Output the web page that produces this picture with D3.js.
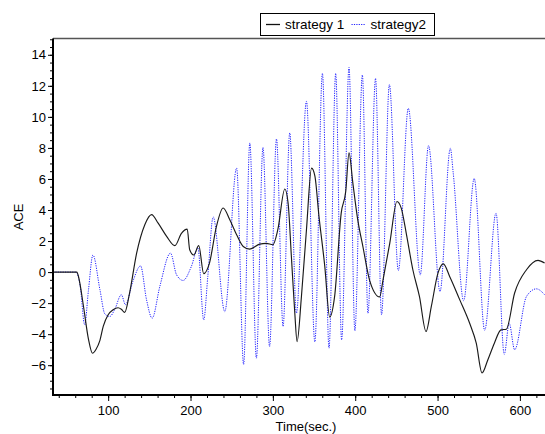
<!DOCTYPE html>
<html>
<head>
<meta charset="utf-8">
<script src="https://cdn.jsdelivr.net/npm/d3@7"></script>
<style>
  body { margin: 0; background: #fff; }
  svg text { font-family: "Liberation Sans", Arial, sans-serif; }
</style>
</head>
<body>
<div id="chart"></div>
<script>
/***** Data ***************************/
var seriesNames = ["strategy 1", "strategy2"];

var s1Time = [33, 50, 62, 64, 70, 76, 81, 85, 90, 94, 100, 106, 112, 116, 120, 126, 134.5, 144.5, 152.7,
              160.7, 171, 181, 189, 196, 199, 204, 210, 216, 223, 231.5, 239.6, 247.7, 256, 264, 272,
              284, 292, 300, 306, 314.5, 318.5, 322.5, 326.6, 329.4, 334.7, 340.8, 347, 351, 356, 363,
              369, 375, 383, 388.5, 392.5, 397, 403, 409.5, 417.6, 429.7, 433.8, 442, 450.7, 456, 462,
              470, 478, 486, 492.5, 500.5, 507, 514.7, 527, 539, 547, 554, 561, 569, 577, 583.5,
              593.6, 608, 622, 630];
var s1Ace = [0, 0, 0, -0.3, -2.2, -4.3, -5.23, -5.0, -4.4, -3.5, -2.75, -2.43, -2.3, -2.4, -2.6, -1.35, 1.2, 3.05, 3.7,
             3.15, 2.3, 1.7, 2.5, 2.77, 1.44, 1.1, 1.7, -0.1, 0.58, 2.94, 4.13, 3.37, 2.4, 1.65, 1.48,
             1.8, 1.85, 1.76, 2.73, 5.35, 4.45, 1.0, -2.6, -4.48, -1.57, 2.73, 6.7, 6.2, 3.6, 0.4,
             -2.9, -1.57, 3.8, 5.2, 7.68, 5.8, 3.4, 1.6, -0.55, -1.6, -0.5, 1.87, 4.55, 4.1, 2.5,
             0.15, -1.57, -3.83, -2.2, -0.07, 0.53, -0.28, -1.79, -3.3, -4.58, -6.5, -5.66, -4.58, -3.72, -3.68,
             -1.35, 0.15, 0.75, 0.58];

var s2Time = [33, 50, 61, 66, 71.5, 76, 81.5, 90, 96, 102, 108, 116, 121, 130, 139.3, 146.6, 153.4, 162.7,
              175.7, 183, 191, 201, 209, 216, 221, 227.5, 241.6, 256, 264.5, 272, 280, 288, 296, 304.4, 312.4,
              320.5, 328.6, 340.8, 351, 360.2, 368.2, 376.3, 383.5, 392.5, 399.6, 408.7, 415.5, 424.7, 432, 441.5,
              452.4, 464.5, 479, 489, 503, 515.5, 519, 531.7, 544.5, 557.2, 571, 581, 587, 593.6, 608,
              620, 630];
var s2Ace = [0, 0, 0, -0.9, -3.4, -1.2, 1.1, -1.14, -2.7, -2.86, -2.4, -1.46, -2.1, -0.6, 0.4, -1.79, -2.97, -0.93,
             1.22, -0.17, -0.54, 0.36, 1.55, -3.08, -0.28, 3.55, -2.54, 6.7, -5.95, 8.32, -5.55, 8.03, -4.8, 8.58, -3.5,
             8.97, -2.65, 11.0, -4.5, 12.8, -4.9, 12.8, -4.37, 13.18, -3.78, 12.7, -2.65, 12.48, -2.75, 12.08,
             0.1, 10.55, -0.17, 8.15, -1.25, 7.97, 6.4, -1.85, 6.03, -3.75, 3.8, -5.3, -3.3, -5.0, -1.57,
             -1.08, -1.46];

var xTicks = [100, 200, 300, 400, 500, 600];
var yTicks = [-6, -4, -2, 0, 2, 4, 6, 8, 10, 12, 14];

/***** Basic layout ******/
var width = 545, height = 434;
var plotLeft = 53, plotRight = 544.6, plotTop = 38.5, plotBottom = 395;

var svg = d3.select("#chart")
            .append("svg")
            .attr("width", width)
            .attr("height", height);

var x = d3.scaleLinear().domain([33, 630]).range([plotLeft, plotRight]);
var y = d3.scaleLinear().domain([-7.92, 15.05]).range([plotBottom, plotTop]);

/***** Frame line on top ******/
svg.append("line")
   .attr("x1", plotLeft).attr("x2", width)
   .attr("y1", plotTop).attr("y2", plotTop)
   .attr("stroke", "#555")
   .attr("stroke-width", 1.4);

/***** Lines ******/
var line = d3.line()
             .x(function(d) { return x(d[0]); })
             .y(function(d) { return y(d[1]); })
             .curve(d3.curveMonotoneX);

var s1 = d3.zip(s1Time, s1Ace);
var s2 = d3.zip(s2Time, s2Ace);

svg.append("path")
   .datum(s2)
   .attr("fill", "none")
   .attr("stroke", "#2020ff")
   .attr("stroke-width", 1)
   .attr("stroke-dasharray", "1.2,1.2")
   .attr("d", line);

svg.append("path")
   .datum(s1)
   .attr("fill", "none")
   .attr("stroke", "#1a1a1a")
   .attr("stroke-width", 1.15)
   .attr("d", line);

/***** Axes ******/
var gx = svg.append("g")
            .attr("transform", "translate(0," + plotBottom + ")");
gx.call(d3.axisBottom(x).tickValues(d3.range(40, 631, 20)).tickSize(3).tickFormat(""));
gx.call(function(g) { g.select(".domain").remove(); });
gx.append("g")
  .call(d3.axisBottom(x).tickValues(xTicks).tickSize(6).tickPadding(5))
  .call(function(g) { g.select(".domain").remove(); });

var gy = svg.append("g")
            .attr("transform", "translate(" + plotLeft + ",0)");
gy.call(d3.axisLeft(y).tickValues(d3.range(-7.5, 15.01, 0.5)).tickSize(3).tickFormat(""));
gy.call(function(g) { g.select(".domain").remove(); });
gy.append("g")
  .call(d3.axisLeft(y).tickValues(yTicks).tickSize(5).tickPadding(2))
  .call(function(g) { g.select(".domain").remove(); });

svg.selectAll(".tick line").attr("stroke", "#000");
svg.selectAll(".tick text")
   .style("font-size", "13px")
   .attr("fill", "#000");

svg.append("line")
   .attr("x1", plotLeft).attr("x2", plotLeft)
   .attr("y1", plotTop).attr("y2", plotBottom + 1)
   .attr("stroke", "#000").attr("stroke-width", 2);
svg.append("line")
   .attr("x1", plotLeft - 1).attr("x2", width)
   .attr("y1", plotBottom).attr("y2", plotBottom)
   .attr("stroke", "#000").attr("stroke-width", 2);

/***** Axis titles ******/
svg.append("text")
   .attr("x", 306)
   .attr("y", 431)
   .attr("text-anchor", "middle")
   .style("font-size", "13px")
   .text("Time(sec.)");

svg.append("text")
   .attr("transform", "translate(23,217) rotate(-90)")
   .attr("text-anchor", "middle")
   .style("font-size", "13px")
   .text("ACE");

/***** Legend ******/
var legend = svg.append("g");
legend.append("rect")
      .attr("x", 260.5).attr("y", 13.5)
      .attr("width", 174).attr("height", 22)
      .attr("fill", "#fff")
      .attr("stroke", "#000");
legend.append("line")
      .attr("x1", 266).attr("x2", 280).attr("y1", 24.5).attr("y2", 24.5)
      .attr("stroke", "#111").attr("stroke-width", 1.3);
legend.append("text")
      .attr("x", 285).attr("y", 29)
      .style("font-size", "13.5px")
      .text(seriesNames[0]);
legend.append("line")
      .attr("x1", 351.5).attr("x2", 365).attr("y1", 24.5).attr("y2", 24.5)
      .attr("stroke", "#2020ff").attr("stroke-width", 1)
      .attr("stroke-dasharray", "1.2,1.2");
legend.append("text")
      .attr("x", 370.5).attr("y", 29)
      .style("font-size", "13.5px")
      .text(seriesNames[1]);
</script>
</body>
</html>
